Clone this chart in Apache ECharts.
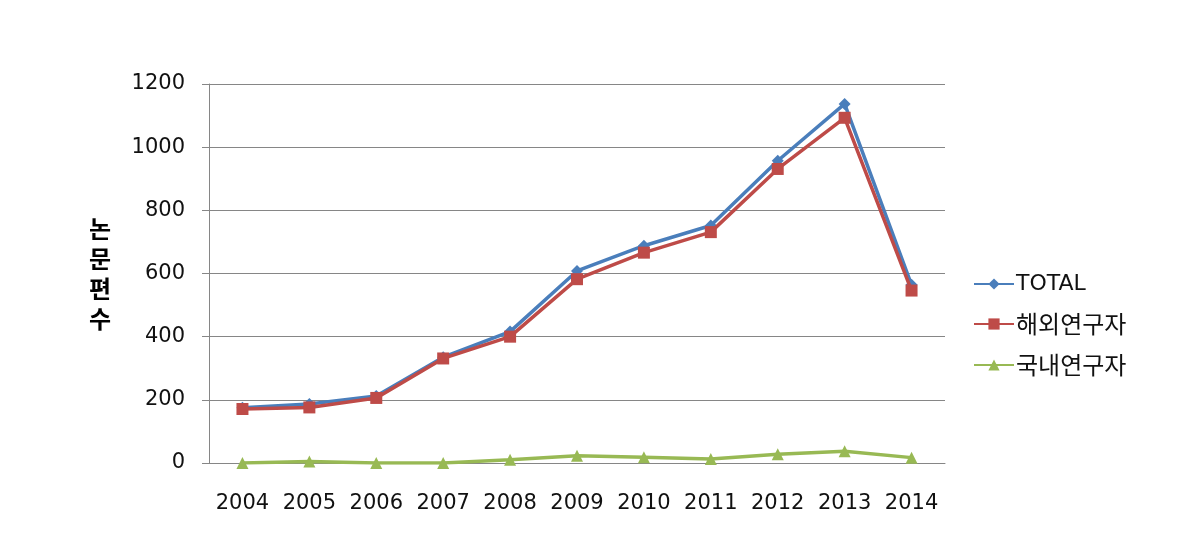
<!DOCTYPE html>
<html>
<head>
<meta charset="utf-8">
<script src="https://cdn.jsdelivr.net/npm/echarts@6/dist/echarts.min.js"></script>
<style>html,body{margin:0;padding:0;background:#fff;}#c{width:1196px;height:537px;}</style>
</head>
<body>
<div id="c"></div>
<script>
const years = ['2004','2005','2006','2007','2008','2009','2010','2011','2012','2013','2014'];
const seriesNames = ['TOTAL', '해외연구자', '국내연구자'];
const totalVals = [175, 187, 212, 335, 416, 608, 688, 752, 957, 1137, 564];
const foreignVals = [171, 176, 206, 331, 400, 582, 666, 731, 931, 1093, 546];
const domesticVals = [0, 5, 0, 0, 10, 23, 18, 13, 28, 37, 17];
const yTicks = [0, 200, 400, 600, 800, 1000, 1200];
const yName = '논\n문\n편\n수';

const chart = echarts.init(document.getElementById('c'), null, {renderer: 'canvas'});
const colors = ['#4A7EBB', '#BE4B48', '#98B954'];
const symbols = ['diamond', 'rect', 'triangle'];
const symSizes = [12, 12, 12];
const data = [totalVals, foreignVals, domesticVals];

chart.setOption({
  backgroundColor: '#ffffff',
  animation: false,
  color: colors,
  grid: {left: 209, right: 251, top: 84, bottom: 74},
  graphic: [{
    type: 'text',
    left: 89,
    top: 214,
    style: {
      text: yName,
      font: 'bold 24px "Noto Sans CJK KR"',
      lineHeight: 30,
      fill: '#000',
      align: 'left'
    }
  }],
  legend: {
    orient: 'vertical',
    left: 968,
    top: 268,
    itemWidth: 40,
    itemHeight: 14,
    itemGap: 17,
    data: seriesNames,
    formatter: function (n) { return /[A-Za-z]/.test(n) ? '{e|' + n + '}' : '{k|' + n + '}'; },
    textStyle: {
      color: '#000',
      padding: [0, 0, 0, -3],
      rich: {
        e: {fontFamily: 'DejaVu Sans', fontSize: 22, color: '#111'},
        k: {fontFamily: 'Noto Sans CJK KR', fontSize: 24, color: '#111'}
      }
    }
  },
  xAxis: {
    type: 'category',
    data: years,
    boundaryGap: true,
    axisLine: {show: true, lineStyle: {color: '#868686', width: 1}},
    axisTick: {show: false},
    axisLabel: {color: '#111', fontFamily: 'DejaVu Sans', fontSize: 21, margin: 30, interval: 0}
  },
  yAxis: {
    type: 'value',
    min: yTicks[0],
    max: yTicks[yTicks.length - 1],
    interval: 200,
    axisLine: {show: true, lineStyle: {color: '#868686', width: 1}},
    axisTick: {show: true, length: 7, lineStyle: {color: '#868686'}},
    splitLine: {show: true, lineStyle: {color: '#868686', width: 1}},
    axisLabel: {color: '#111', fontFamily: 'DejaVu Sans', fontSize: 21, margin: 24,
      formatter: function (v) { return String(v); }}
  },
  series: seriesNames.map(function (name, i) {
    return {
      name: name,
      type: 'line',
      data: data[i],
      symbol: symbols[i],
      symbolSize: symSizes[i],
      showAllSymbol: true,
      lineStyle: {width: 3.5, color: colors[i]},
      itemStyle: {color: colors[i]},
      z: 2 + i
    };
  })
});
</script>
</body>
</html>
